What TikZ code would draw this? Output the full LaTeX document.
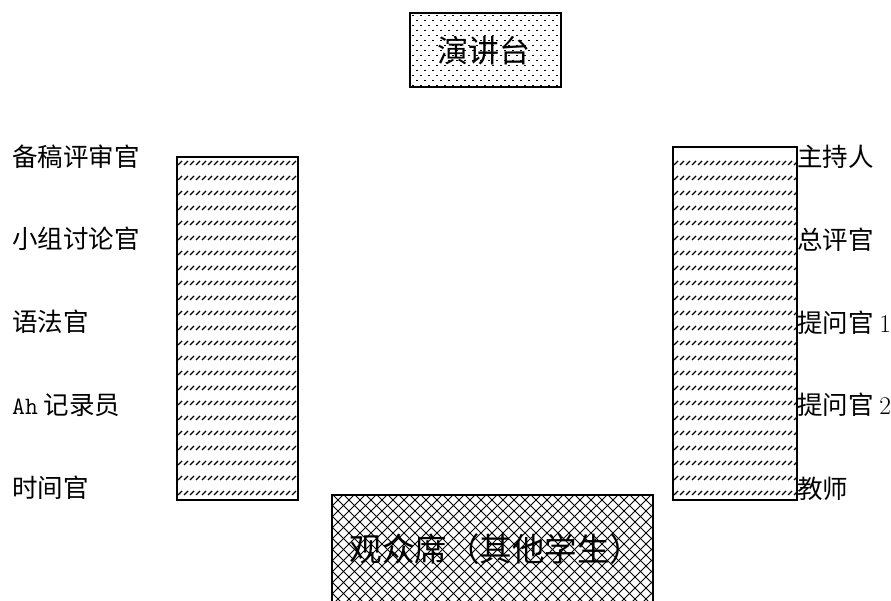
\documentclass[tikz,border=0pt]{standalone}
\usepackage{fontspec}
\newfontfamily\cjk{Noto Sans CJK SC}
\tikzset{
  lbl/.style={font=\cjk\fontsize{25.5}{27}\selectfont, inner sep=0pt, anchor=west},
  boxline/.style={draw=black, line width=1.3pt},
  hatchdash/.style={line width=1.1pt},
}
\begin{document}
\begin{tikzpicture}[x=1pt,y=-1pt]
\useasboundingbox (0,0) rectangle (891,601);
% stage
\begin{scope}
  \clip (410,13) rectangle (561,87);
  \foreach \r in {0,...,15}{
    \pgfmathsetmacro{\yy}{15+5*\r}
    \pgfmathsetmacro{\off}{mod(\r,2)*4}
    \foreach \c in {0,...,19}{
      \fill (412+\off+8*\c,\yy) rectangle ++(1.5,1.5);
    }
  }
\end{scope}
\draw[boxline] (410,13) rectangle (561,87);
\node[font=\cjk\fontsize{31}{33}\selectfont, inner sep=0pt] (stage) at (484,51) {演讲台};
% left table
\begin{scope}
  \clip (177,157) rectangle (298,500);
  \foreach \r in {0,...,22}{
    \pgfmathsetmacro{\yy}{163+15*\r}
    \foreach \c in {0,...,20}{
      \draw[hatchdash] (178+6*\c,\yy+2) -- ++(4,-4);
    }
  }
\end{scope}
\draw[boxline] (177,157) rectangle (298,500);
% right table
\begin{scope}
  \clip (673,147) rectangle (797,500);
  \foreach \r in {0,...,22}{
    \pgfmathsetmacro{\yy}{163+15*\r}
    \foreach \c in {0,...,21}{
      \draw[hatchdash] (674+6*\c,\yy+2) -- ++(4,-4);
    }
  }
\end{scope}
\draw[boxline] (673,147) rectangle (797,500);
% audience
\begin{scope}
  \clip (332,495) rectangle (653,602);
  \foreach \k in {0,...,40}{
    \draw[line width=0.9pt] (332+11*\k-120,495) -- ++(120,120);
    \draw[line width=0.9pt] (332+11*\k,495) -- ++(-120,120);
  }
\end{scope}
\draw[line width=1.3pt] (332,603) -- (332,495) -- (653,495) -- (653,603);
\node[font=\cjk\fontsize{32.5}{34}\selectfont, inner sep=0pt] (aud) at (496,549) {观众席（其他学生）};
% left labels
\node[lbl] (l1) at (12,157) {备稿评审官};
\node[lbl] (l2) at (12,239) {小组讨论官};
\node[lbl] (l3) at (12,322) {语法官};
\node[lbl] (l4) at (12,405) {{\ttfamily\fontsize{25}{27}\selectfont Ah} 记录员};
\node[lbl] (l5) at (12,488) {时间官};
% right labels
\node[lbl] (r1) at (797,157) {主持人};
\node[lbl] (r2) at (797,240) {总评官};
\node[lbl] (r3) at (797,323) {提问官 {\rmfamily 1}};
\node[lbl] (r4) at (797,405) {提问官 {\rmfamily 2}};
\node[lbl] (r5) at (797,489) {教师};
\end{tikzpicture}
\end{document}
